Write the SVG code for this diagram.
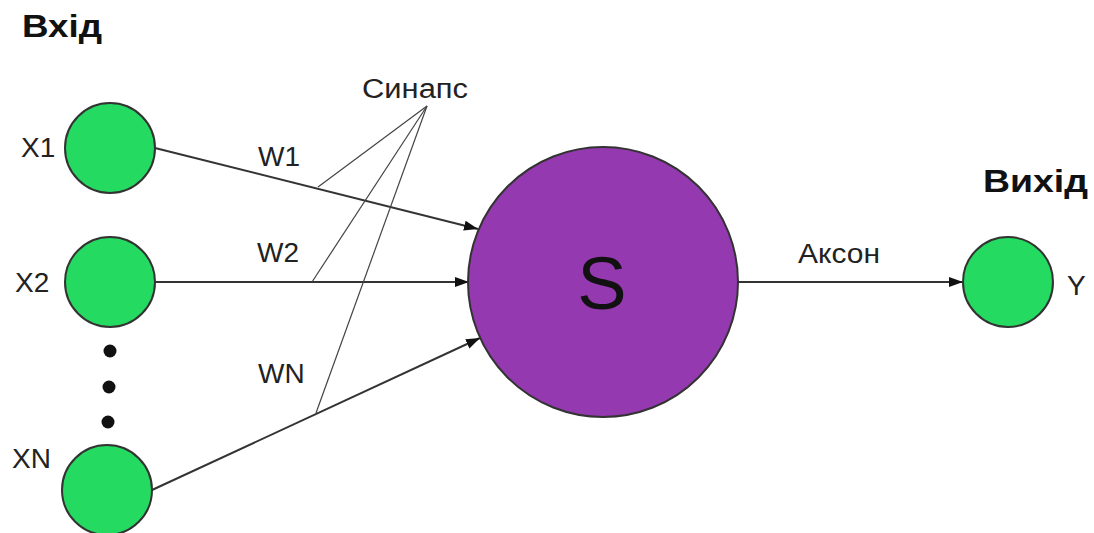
<svg xmlns="http://www.w3.org/2000/svg" width="1094" height="533" viewBox="0 0 1094 533">
  <style>
    .in { fill: #24da60; stroke: #333; stroke-width: 2; }
    .soma { fill: #9539b0; stroke: #333; stroke-width: 2; }
    .edge { stroke: #333; stroke-width: 2; fill: none; marker-end: url(#arrow); }
    .syn { stroke: #444; stroke-width: 1.2; fill: none; }
    .lbl { font-family: "Liberation Sans", Arial, sans-serif; font-size: 28px; fill: #222; }
    .syn-lbl { font-size: 27px; }
    .big { font-size: 74px; fill: #111; }
    .head { font-family: "Liberation Sans", Arial, sans-serif; font-size: 32px; font-weight: bold; fill: #111; }
  </style>
  <defs>
    <marker id="arrow" markerUnits="userSpaceOnUse" markerWidth="16" markerHeight="12" refX="14" refY="5" orient="auto">
      <path d="M0,0 L14,5 L0,10 z" fill="#111"/>
    </marker>
  </defs>
  <rect width="1094" height="533" fill="#fff"/>

  <text class="head" x="22" y="37" textLength="80" lengthAdjust="spacingAndGlyphs">Вхід</text>
  <text class="head" x="983" y="192" textLength="105" lengthAdjust="spacingAndGlyphs">Вихід</text>

  <!-- connectors: weighted inputs, axon and synapse pointers -->
  <g id="connectors">
    <line class="edge" x1="155" y1="148" x2="478" y2="229"/>
    <line class="edge" x1="155" y1="282" x2="469" y2="282"/>
    <line class="edge" x1="152" y1="490" x2="480" y2="338"/>
    <line class="edge" x1="738" y1="282" x2="963" y2="282"/>
    <line class="syn" x1="427" y1="106" x2="318" y2="187"/>
    <line class="syn" x1="427" y1="106" x2="312" y2="282"/>
    <line class="syn" x1="427" y1="106" x2="316" y2="413"/>
    <text class="lbl" x="258" y="166">W1</text>
    <text class="lbl" x="257" y="262">W2</text>
    <text class="lbl" x="258" y="383">WN</text>
    <text class="lbl syn-lbl" x="362" y="98" textLength="106" lengthAdjust="spacingAndGlyphs">Синапс</text>
    <text class="lbl" x="798" y="263" textLength="82" lengthAdjust="spacingAndGlyphs">Аксон</text>
  </g>

  <g id="x1">
    <circle class="in" cx="110" cy="148" r="45"/>
    <text class="lbl" x="21" y="157">X1</text>
  </g>
  <g id="x2">
    <circle class="in" cx="110" cy="282" r="45"/>
    <text class="lbl" x="15" y="292">X2</text>
  </g>
  <g id="ellipsis" fill="#111">
    <circle cx="110" cy="351" r="6.5"/>
    <circle cx="109" cy="387" r="6.5"/>
    <circle cx="108" cy="422" r="6.5"/>
  </g>
  <g id="xn">
    <circle class="in" cx="107" cy="490" r="45"/>
    <text class="lbl" x="12" y="468">XN</text>
  </g>
  <g id="sum">
    <circle class="soma" cx="603" cy="282" r="135"/>
    <text class="lbl big" x="602" y="309" text-anchor="middle">S</text>
  </g>
  <g id="y">
    <circle class="in" cx="1008" cy="282" r="45"/>
    <text class="lbl" x="1067" y="295">Y</text>
  </g>
</svg>
